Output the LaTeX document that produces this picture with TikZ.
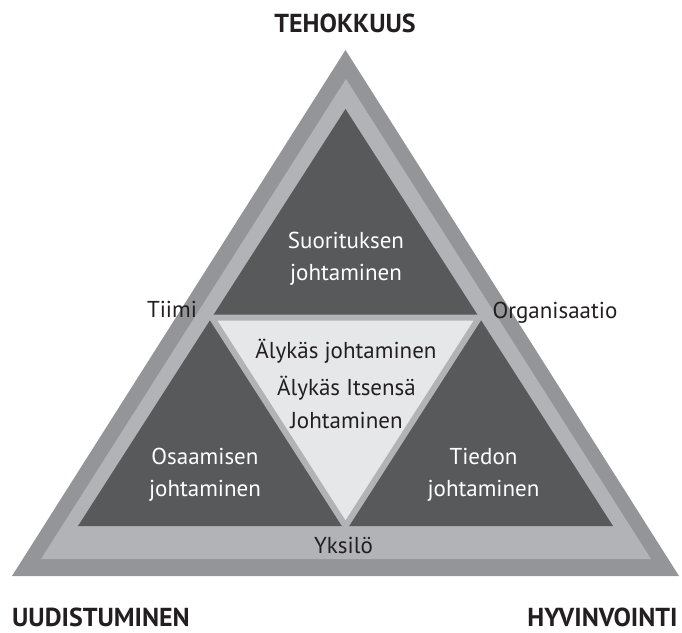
\documentclass[tikz,border=0pt]{standalone}
\usepackage{fontspec}
\setmainfont{PT Sans}
\usetikzlibrary{calc}
\definecolor{outerband}{HTML}{939598}
\definecolor{midband}{HTML}{B1B3B6}
\definecolor{darkfill}{HTML}{58595B}
\definecolor{lightfill}{HTML}{E6E7E8}
\definecolor{labelink}{HTML}{231F20}
\tikzset{
  lbl/.style={inner sep=0pt, anchor=base, font=\fontsize{23}{26}\selectfont, text=labelink},
  wlbl/.style={lbl, text=white},
  head/.style={inner sep=0pt, anchor=base, font=\fontsize{26}{30}\selectfont\bfseries, text=labelink},
}
\begin{document}
\begin{tikzpicture}[x=1pt,y=-1pt]
\useasboundingbox (0,0) rectangle (682,632);
% outer triangle
\coordinate (oA) at (345.5,50);
\coordinate (oB) at (12,576);
\coordinate (oC) at (679,576);
% middle triangle
\coordinate (mA) at (346,79);
\coordinate (mB) at (41,559);
\coordinate (mC) at (651,559);
% dark triangle
\coordinate (dA) at (345.5,109);
\coordinate (dB) at (78,526);
\coordinate (dC) at (613,526);
\fill[outerband] (oA) -- (oB) -- (oC) -- cycle;
\fill[midband] (mA) -- (mB) -- (mC) -- cycle;
\fill[darkfill] (dA) -- (dB) -- (dC) -- cycle;
% inner inverted triangle (midpoints)
\coordinate (iL) at ($(dA)!0.5!(dB)$);
\coordinate (iR) at ($(dA)!0.5!(dC)$);
\coordinate (iB) at ($(dB)!0.5!(dC)$);
\filldraw[fill=lightfill, draw=midband, line width=6pt, line join=miter] (iL) -- (iR) -- (iB) -- cycle;

% headings
\node[head] (teho) at (345,32) {TEHOKKUUS};
\node[head] (uudis) at (101,626) {UUDISTUMINEN};
\node[head] (hyvin) at (602.5,626) {HYVINVOINTI};

% corner labels
\node[lbl] (tiimi) at (172,317) {Tiimi};
\node[lbl] (org) at (555,318) {Organisaatio};
\node[lbl] (yks) at (343.5,553) {Yksilö};

% dark triangle labels
\node[wlbl] (suor1) at (346,248) {Suorituksen};
\node[wlbl] (suor2) at (346,280) {johtaminen};
\node[wlbl] (osa1) at (205,464) {Osaamisen};
\node[wlbl] (osa2) at (205,496) {johtaminen};
\node[wlbl] (tie1) at (483.5,464) {Tiedon};
\node[wlbl] (tie2) at (483.5,496) {johtaminen};

% centre labels
\node[lbl] (aly1) at (346,358) {Älykäs johtaminen};
\node[lbl] (aly2) at (346.5,395) {Älykäs Itsensä};
\node[lbl] (aly3) at (346.5,428) {Johtaminen};
\end{tikzpicture}
\end{document}
